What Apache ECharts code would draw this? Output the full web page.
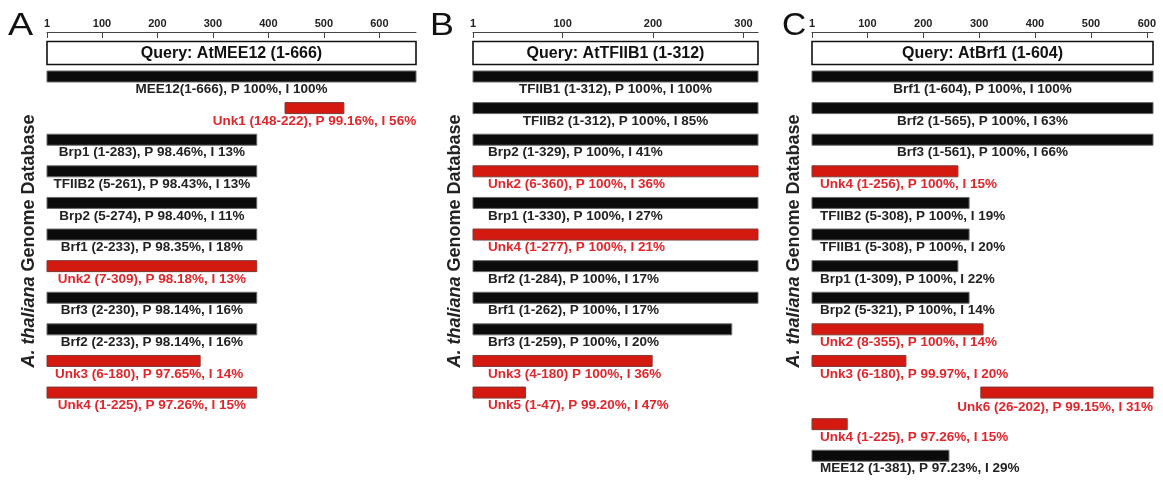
<!DOCTYPE html>
<html><head><meta charset="utf-8">
<script src="https://cdn.jsdelivr.net/npm/echarts@6/dist/echarts.min.js"></script>
<style>html,body{margin:0;padding:0;background:#fff}#c{width:1163px;height:481px}</style>
</head><body><div id="c"></div>
<script>
// ---------- Panel A : AtMEE12 ----------
const aQuery = 'Query: AtMEE12 (1-666)';
const aMax = 666;
const aTicks = [1, 100, 200, 300, 400, 500, 600];
const aLabels = [
  'MEE12(1-666), P 100%, I 100%',
  'Unk1 (148-222), P 99.16%, I 56%',
  'Brp1 (1-283), P 98.46%, I 13%',
  'TFIIB2 (5-261), P 98.43%, I 13%',
  'Brp2 (5-274), P 98.40%, I 11%',
  'Brf1 (2-233), P 98.35%, I 18%',
  'Unk2 (7-309), P 98.18%, I 13%',
  'Brf3 (2-230), P 98.14%, I 16%',
  'Brf2 (2-233), P 98.14%, I 16%',
  'Unk3 (6-180), P 97.65%, I 14%',
  'Unk4 (1-225), P 97.26%, I 15%'
];
const aStart = [1, 430, 1, 1, 1, 1, 1, 1, 1, 1, 1];
const aEnd   = [666, 536, 379, 379, 379, 379, 379, 379, 379, 277, 379];
const aAlign = ['c', 'c', 'c', 'c', 'c', 'c', 'c', 'c', 'c', 'l', 'c'];

// ---------- Panel B : AtTFIIB1 ----------
const bQuery = 'Query: AtTFIIB1 (1-312)';
const bMax = 316;
const bTicks = [1, 100, 200, 300];
const bLabels = [
  'TFIIB1 (1-312), P 100%, I 100%',
  'TFIIB2 (1-312), P 100%, I 85%',
  'Brp2 (1-329), P 100%, I 41%',
  'Unk2 (6-360), P 100%, I 36%',
  'Brp1 (1-330), P 100%, I 27%',
  'Unk4 (1-277), P 100%, I 21%',
  'Brf2 (1-284), P 100%, I 17%',
  'Brf1 (1-262), P 100%, I 17%',
  'Brf3 (1-259), P 100%, I 20%',
  'Unk3 (4-180) P 100%, I 36%',
  'Unk5 (1-47), P 99.20%, I 47%'
];
const bStart = [1, 1, 1, 1, 1, 1, 1, 1, 1, 1, 1];
const bEnd   = [316, 316, 316, 316, 316, 316, 316, 316, 287, 199, 59];
const bAlign = ['c', 'c', 'l', 'l', 'l', 'l', 'l', 'l', 'l', 'l', 'l'];

// ---------- Panel C : AtBrf1 ----------
const cQuery = 'Query: AtBrf1 (1-604)';
const cMax = 611;
const cTicks = [1, 100, 200, 300, 400, 500, 600];
const cLabels = [
  'Brf1 (1-604), P 100%, I 100%',
  'Brf2 (1-565), P 100%, I 63%',
  'Brf3 (1-561), P 100%, I 66%',
  'Unk4 (1-256), P 100%, I 15%',
  'TFIIB2 (5-308), P 100%, I 19%',
  'TFIIB1 (5-308), P 100%, I 20%',
  'Brp1 (1-309), P 100%, I 22%',
  'Brp2 (5-321), P 100%, I 14%',
  'Unk2 (8-355), P 100%, I 14%',
  'Unk3 (6-180), P 99.97%, I 20%',
  'Unk6 (26-202), P 99.15%, I 31%',
  'Unk4 (1-225), P 97.26%, I 15%',
  'MEE12 (1-381), P 97.23%, I 29%'
];
const cStart = [1, 1, 1, 1, 1, 1, 1, 1, 1, 1, 303, 1, 1];
const cEnd   = [611, 611, 611, 262, 282, 282, 262, 282, 307, 169, 611, 64, 246];
const cAlign = ['c', 'c', 'c', 'l', 'l', 'l', 'l', 'l', 'l', 'l', 'r', 'l', 'l'];

const yTitle = '{i|A. thaliana} Genome Database';

// ---------- rendering ----------
const FONT = "'Liberation Sans', Arial, Helvetica, sans-serif";
const GRID_TOP = 32, GRID_H = 438;
const Y_MIN = -1.408, Y_MAX = 12.45;

const panels = [
  {q: aQuery, max: aMax, ticks: aTicks, labels: aLabels, s: aStart, e: aEnd, al: aAlign, left: 47, width: 369, off: 8},
  {q: bQuery, max: bMax, ticks: bTicks, labels: bLabels, s: bStart, e: bEnd, al: bAlign, left: 473, width: 285, off: 15},
  {q: cQuery, max: cMax, ticks: cTicks, labels: cLabels, s: cStart, e: cEnd, al: cAlign, left: 812, width: 341, off: 8}
];

function barRender(p) {
  return function (params, api) {
    const idx = api.value(2);
    const p0 = api.coord([api.value(0), idx]);
    const p1 = api.coord([api.value(1), idx]);
    const h = 11;
    const txt = p.labels[idx];
    const red = txt.indexOf('Unk') === 0;
    const m = p.al[idx];
    let tx, align, dy = 7.5;
    if (m === 'c') { tx = (p0[0] + p1[0]) / 2; align = 'center'; }
    else if (m === 'l') { tx = p0[0] + p.off; align = 'left'; }
    else { tx = p1[0]; align = 'right'; dy = 9.5; }
    return {
      type: 'group',
      children: [
        {type: 'rect', shape: {x: p0[0], y: p0[1] - h / 2, width: p1[0] - p0[0], height: h},
         style: {fill: red ? '#d41a10' : '#0b0b0b', stroke: red ? '#7d3a34' : '#6a6a6a', lineWidth: 1}},
        {type: 'text', style: {text: txt, x: tx, y: p0[1] + h / 2 + dy, align: align, verticalAlign: 'middle',
         font: 'bold 13.5px ' + FONT, fill: red ? '#e0262c' : '#222222'}}
      ]
    };
  };
}

function queryRender(p) {
  return function (params, api) {
    const cs = params.coordSys;
    const p0 = api.coord([api.value(0), 0]);
    const p1 = api.coord([api.value(1), 0]);
    return {
      type: 'group',
      children: [
        {type: 'rect', shape: {x: p0[0], y: cs.y + 9.5, width: p1[0] - p0[0], height: 23},
         style: {fill: '#ffffff', stroke: '#111111', lineWidth: 1.6}},
        {type: 'text', style: {text: p.q, x: (p0[0] + p1[0]) / 2, y: cs.y + 21.5, align: 'center', verticalAlign: 'middle',
         font: 'bold 16px ' + FONT, fill: '#111111'}}
      ]
    };
  };
}

const option = {
  animation: false,
  backgroundColor: '#ffffff',
  grid: panels.map(p => ({left: p.left, width: p.width, top: GRID_TOP, height: GRID_H})),
  xAxis: panels.map((p, i) => ({
    type: 'value', gridIndex: i, position: 'top', min: 1, max: p.max,
    axisLine: {show: true, onZero: false, lineStyle: {color: '#444', width: 1}},
    axisTick: {show: true, inside: true, length: 6, lineStyle: {color: '#444'}, customValues: p.ticks},
    axisLabel: {show: true, customValues: p.ticks, margin: 3, fontSize: 11, fontWeight: 'bold', fontFamily: FONT, color: '#222',
      formatter: v => String(v)},
    splitLine: {show: false}
  })),
  yAxis: panels.map((p, i) => ({
    type: 'value', gridIndex: i, inverse: true, min: Y_MIN, max: Y_MAX,
    axisLine: {show: false}, axisTick: {show: false}, axisLabel: {show: false}, splitLine: {show: false},
    name: yTitle, nameLocation: 'middle', nameRotate: 90, nameGap: 9,
    nameTextStyle: {fontSize: 18, fontWeight: 'bold', fontFamily: FONT, color: '#222', padding: [0, 0, 0, 20],
      rich: {i: {fontSize: 18, fontWeight: 'bold', fontStyle: 'italic', fontFamily: FONT, color: '#222'}}}
  })),
  graphic: [
    {type: 'text', left: 8, top: 10, scaleX: 1.18, style: {text: 'A', font: '32px ' + FONT, fill: '#111'}},
    {type: 'text', left: 430, top: 10, scaleX: 1.12, style: {text: 'B', font: '32px ' + FONT, fill: '#111'}},
    {type: 'text', left: 782, top: 10, scaleX: 1.05, style: {text: 'C', font: '32px ' + FONT, fill: '#111'}}
  ],
  series: []
};

panels.forEach((p, i) => {
  option.series.push({
    type: 'custom', xAxisIndex: i, yAxisIndex: i, renderItem: queryRender(p),
    data: [[1, p.max]], encode: {x: [0, 1]}
  });
  option.series.push({
    type: 'custom', xAxisIndex: i, yAxisIndex: i, renderItem: barRender(p),
    data: p.labels.map((t, k) => [p.s[k], p.e[k], k]), encode: {x: [0, 1], y: 2}
  });
});

const chart = echarts.init(document.getElementById('c'), null, {renderer: 'canvas'});
chart.setOption(option);
</script>
</body></html>
